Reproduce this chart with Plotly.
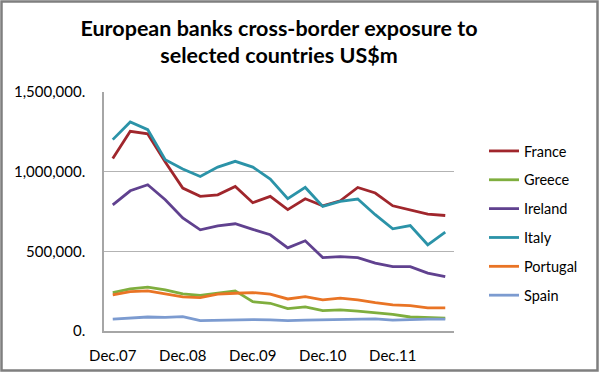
import plotly.graph_objects as go

quarters = ["Dec.07", "Mar.08", "Jun.08", "Sep.08", "Dec.08", "Mar.09", "Jun.09", "Sep.09",
            "Dec.09", "Mar.10", "Jun.10", "Sep.10", "Dec.10", "Mar.11", "Jun.11", "Sep.11",
            "Dec.11", "Mar.12", "Jun.12", "Sep.12"]
tick_labels = ["Dec.07", "Dec.08", "Dec.09", "Dec.10", "Dec.11"]

france = [1082000, 1253000, 1237000, 1060000, 897000, 845000, 855000, 907000, 805000, 845000,
          762000, 830000, 786000, 817000, 901000, 866000, 786000, 761000, 734000, 725000]
greece = [241000, 264000, 275000, 258000, 233000, 224000, 237000, 252000, 184000, 174000,
          140000, 151000, 128000, 132000, 125000, 117000, 105000, 88000, 84000, 80000]
ireland = [792000, 880000, 918000, 824000, 709000, 635000, 660000, 673000, 638000, 604000,
           522000, 566000, 461000, 467000, 461000, 426000, 404000, 404000, 363000, 342000]
italy = [1201000, 1312000, 1264000, 1075000, 1017000, 970000, 1029000, 1065000, 1029000, 954000,
         830000, 901000, 782000, 813000, 828000, 730000, 641000, 662000, 541000, 621000]
portugal = [226000, 247000, 252000, 233000, 214000, 210000, 231000, 237000, 241000, 231000,
            201000, 216000, 195000, 206000, 195000, 178000, 164000, 159000, 145000, 145000]
spain = [75000, 80000, 88000, 85000, 90000, 65000, 68000, 72000, 72000, 70000,
         65000, 68000, 69000, 72000, 72000, 76000, 68000, 72000, 74000, 74000]

y_ticks = [0, 500000, 1000000, 1500000]
y_tick_text = ["0.", "500,000.", "1,000,000.", "1,500,000."]

series = [
    ("France", france, "#A0262C"),
    ("Greece", greece, "#7FAE3E"),
    ("Ireland", ireland, "#60418F"),
    ("Italy", italy, "#2B93A8"),
    ("Portugal", portugal, "#E97425"),
    ("Spain", spain, "#7C9BD0"),
]

fig = go.Figure()
for name, vals, col in series:
    fig.add_trace(go.Scatter(x=quarters, y=vals, mode="lines", name=name,
                             legendgroup=name,
                             line=dict(color=col, width=2.8)))

W, H = 600, 373
ml, mr, mt, mb = 104, 146, 92, 42
pw, ph = W - ml - mr, H - mt - mb

def px_x(p):
    return (p - ml) / pw

def px_y(p):
    return (H - mb - p) / ph

fig.update_layout(
    width=W, height=H,
    margin=dict(l=ml, r=mr, t=mt, b=mb, autoexpand=False),
    paper_bgcolor="white", plot_bgcolor="white",
    font=dict(family="Lato, Open Sans, sans-serif", color="#000000", size=15),
    title=dict(text="European banks cross-border exposure to<br>selected countries US$m",
               x=0.5, xref="paper", xanchor="center",
               y=1 - 35.5 / H, yanchor="middle", automargin=False,
               font=dict(size=21.5, family="Lato, Open Sans, sans-serif", weight="bold")),
    showlegend=True,
    legend=dict(x=px_x(484), xanchor="left", y=px_y(135), yanchor="top",
                font=dict(size=14.5), tracegroupgap=7, itemwidth=30,
                bgcolor="rgba(0,0,0,0)"),
    xaxis=dict(type="category", tickmode="array", tickvals=tick_labels, ticktext=tick_labels,
               showgrid=False, showline=True, linecolor="#a6a6a6", linewidth=1.5,
               ticks="", ticklabelstandoff=10, tickfont=dict(size=15), automargin=False,
               range=[-0.5, len(quarters) - 0.5]),
    yaxis=dict(range=[0, 1500000], tickmode="array", tickvals=y_ticks, ticktext=y_tick_text,
               showgrid=True, gridcolor="#b3b3b3", gridwidth=1,
               showline=True, linecolor="#a6a6a6", linewidth=1.5, automargin=False,
               ticks="", ticklabelstandoff=14, tickfont=dict(size=15), zeroline=False),
    shapes=[dict(type="rect", xref="paper", yref="paper",
                 x0=px_x(1.5), x1=px_x(597.5), y0=px_y(370.5), y1=px_y(1.5),
                 line=dict(color="#7f7f7f", width=2.5), fillcolor="rgba(0,0,0,0)", layer="below")],
)

fig.write_html("out.html",
               config={"displayModeBar": False},
               post_script="document.body.style.margin='0';document.body.style.overflow='hidden';")
